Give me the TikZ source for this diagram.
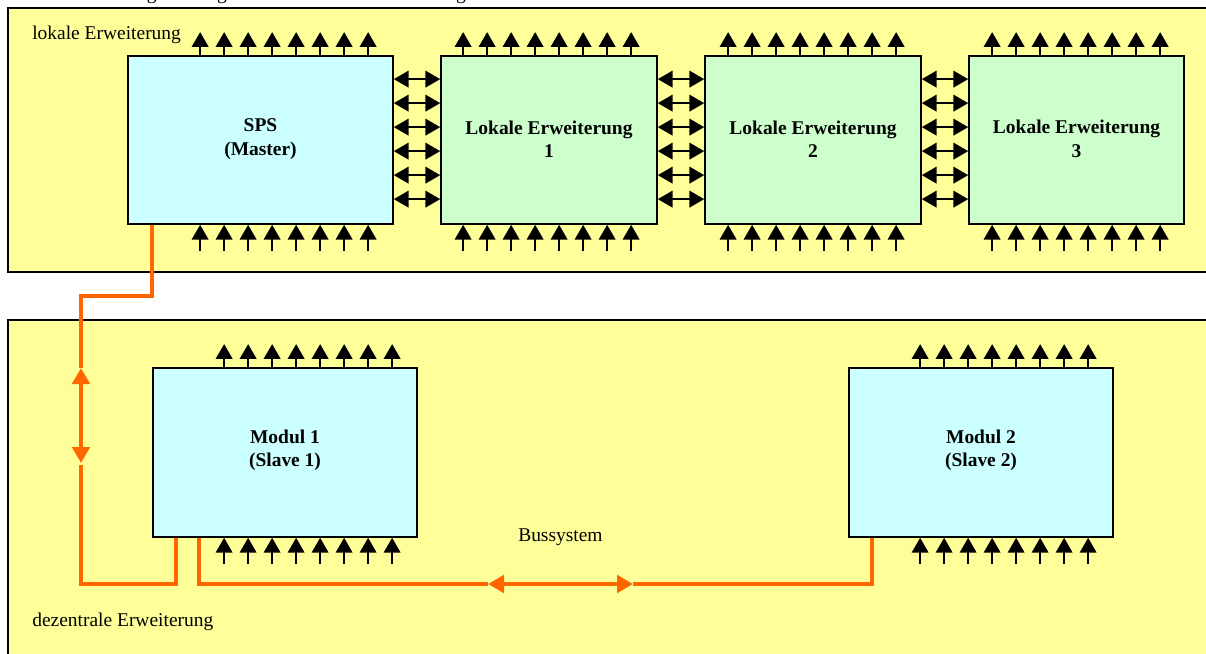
\documentclass[tikz,border=0pt]{standalone}
\usepackage{fontspec}
\setmainfont{Liberation Serif}
\usetikzlibrary{arrows.meta,fit,calc}
\definecolor{panel}{RGB}{255,255,153}
\definecolor{cyanbox}{RGB}{204,255,255}
\definecolor{greenbox}{RGB}{204,255,204}
\definecolor{bus}{RGB}{255,102,0}
\tikzset{
  panelbox/.style={draw=black, fill=panel, line width=1.3pt},
  unit/.style={draw=black, line width=1.3pt, inner sep=0pt},
  unittext/.style={inner sep=0pt, align=center, font=\fontsize{14.6}{17.6}\selectfont\bfseries},
  master/.style={unit, fill=cyanbox},
  ext/.style={unit, fill=greenbox},
  io/.style={-{Triangle[width=12.5pt,length=11pt]}, line width=1.1pt},
  link/.style={{Triangle[width=12.5pt,length=11pt]}-{Triangle[width=12.5pt,length=11pt]}, line width=1.1pt},
  busline/.style={draw=bus, line width=3pt},
  busarrow/.style={busline, {Triangle[width=13pt,length=12pt]}-{Triangle[width=13pt,length=12pt]}},
  lbl/.style={font=\fontsize{14.6}{17.3}\selectfont, inner sep=0pt},
}
\begin{document}
\begin{tikzpicture}[x=0.75pt,y=-0.75pt]
\clip (0,0) rectangle (1206,653);
\useasboundingbox (0,0) rectangle (1206,653);
% clipped title at the top edge (only its descenders show)
\node[lbl, anchor=base west] (title) at (120,-0.5) {Vergrößerung der Anzahl der Ein- und Ausgabekanäle};
% panels
\draw[panelbox] (8,8) rectangle (1240,272);
\draw[panelbox] (8,320) rectangle (1240,680);
\node[lbl, anchor=base west] (lokal) at (32,39) {lokale Erweiterung};
\node[lbl, anchor=base west] (dezentral) at (32,626) {dezentrale Erweiterung};
\node[lbl, anchor=base west] (bussys) at (518,541) {Bussystem};
% units
\node[master, fit={(128,56) (393,224)}] (sps) {};
\node[ext, fit={(441,56) (657,224)}] (l1) {};
\node[ext, fit={(705,56) (921,224)}] (l2) {};
\node[ext, fit={(969,56) (1184,224)}] (l3) {};
\node[master, fit={(153,368) (417,537)}] (m1) {};
\node[master, fit={(849,368) (1113,537)}] (m2) {};
\node[unittext] (spst) at ($(sps.center)+(0,-1)$) {SPS\\(Master)};
\node[unittext] (l1t) at ($(l1.center)+(0,-1)$) {Lokale Erweiterung\\1};
\node[unittext] (l2t) at ($(l2.center)+(0,-1)$) {Lokale Erweiterung\\2};
\node[unittext] (l3t) at ($(l3.center)+(0,-1)$) {Lokale Erweiterung\\3};
\node[unittext] (m1t) at ($(m1.center)+(0,-2)$) {Modul 1\\(Slave 1)};
\node[unittext] (m2t) at ($(m2.center)+(0,-2)$) {Modul 2\\(Slave 2)};
% I/O arrows
\foreach \n/\off in {sps/73, l1/23, l2/24, l3/24, m1/72, m2/72}{
  \foreach \i in {0,...,7}{
    \draw[io] ($(\n.north west)+(\off+24*\i,0)$) -- ++(0,-23);
    \draw[io] ($(\n.south west)+(\off+24*\i,26)$) -- ($(\n.south west)+(\off+24*\i,0)$);
  }
}
% local links
\foreach \a/\b in {sps/l1, l1/l2, l2/l3}{
  \foreach \i in {0,...,5}{
    \draw[link] ($(\a.north east)+(0,24+24*\i)$) -- ($(\b.north west)+(0,24+24*\i)$);
  }
}
% bus lines
\coordinate (ja) at (81,296);
\coordinate (va) at (81,368);
\coordinate (vb) at (81,463);
\coordinate (vc) at (81,465);
\coordinate (jb) at (81,584);
\coordinate (ba) at (488,584);
\coordinate (bb) at (633,584);
\draw[busline] ($(sps.south west)+(25,0)$) |- (ja) -- (va);
\draw[busarrow] (va) -- (vb);
\draw[busline] (vc) -- (jb) -| ($(m1.south west)+(24,0)$);
\draw[busline] ($(m1.south west)+(47,0)$) |- (ba);
\draw[busarrow] (ba) -- (bb);
\draw[busline] (bb) -| ($(m2.south west)+(24,0)$);
\end{tikzpicture}
\end{document}
